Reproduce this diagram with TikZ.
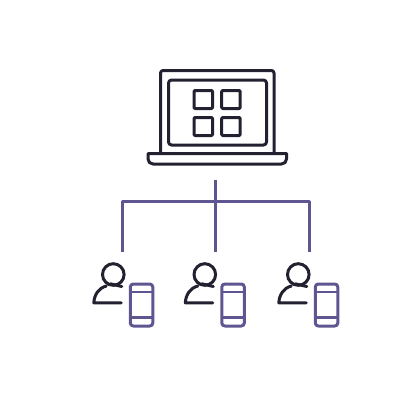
\documentclass[tikz,border=0pt]{standalone}
\definecolor{inkdark}{HTML}{23202F}
\definecolor{inkpurple}{HTML}{5F5590}
\tikzset{
  darkline/.style={draw=inkdark,line width=3pt,line join=round,line cap=round},
  purpleline/.style={draw=inkpurple,line width=3pt,line join=round},
  personicon/.pic={
    \draw[darkline] (0,0) circle (10.8);
    \draw[darkline] (-7,11.5) .. controls (-14.5,13.5) and (-19,20) .. (-19.5,28.3) -- (8,28.3);
    \draw[darkline] (-3,9.3) -- (8.5,12);
    \draw[purpleline,rounded corners=3pt] (17,9.5) rectangle (39.5,51.5);
    \draw[purpleline,line width=2.6pt] (17,17.3) -- (39.5,17.3);
    \draw[purpleline,line width=2.6pt] (17,42.7) -- (39.5,42.7);
  }
}
\begin{document}
\begin{tikzpicture}[x=1pt,y=-1pt]
\useasboundingbox (0,0) rectangle (405,407);
% laptop
\draw[darkline,rounded corners=2.5pt] (160.5,153) -- (160.5,70.5) -- (274,70.5) -- (274,153);
\draw[darkline,rounded corners=3pt] (168.5,80) rectangle (266.5,145);
\foreach \x/\y in {194/90.5,221.7/90.5,194/117.5,221.7/117.5}
  \draw[darkline,rounded corners=1pt] (\x,\y) rectangle ++(18.5,18);
\draw[darkline] (148,153.5) -- (286.5,153.5) -- (286.5,159) arc[start angle=0,end angle=90,radius=5] -- (153,164) arc[start angle=90,end angle=180,radius=5] -- cycle;
% connectors
\coordinate (root) at (215.5,180);
\coordinate (bus) at (215.5,201.5);
\coordinate (left) at (122.5,201.5);
\coordinate (right) at (309,201.5);
\coordinate (t1) at (122.5,252);
\coordinate (t2) at (215.5,252);
\coordinate (t3) at (309,252);
\draw[purpleline] (root) -- (t2);
\draw[purpleline] (t1) -- (left) -- (right) -- (t3);
% users
\pic at (113.3,274.5) {personicon};
\pic at (204.8,274.5) {personicon};
\pic at (298.3,274.5) {personicon};
\end{tikzpicture}
\end{document}
